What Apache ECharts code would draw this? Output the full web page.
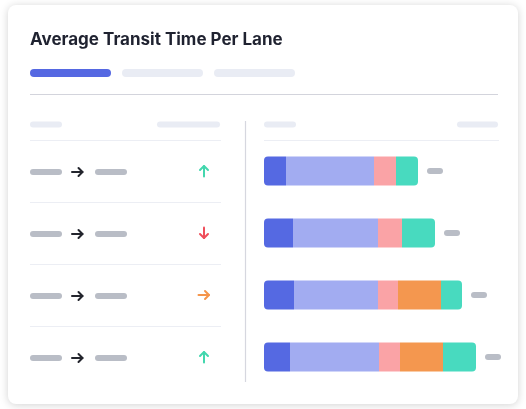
<!DOCTYPE html>
<html><head><meta charset="utf-8">
<script src="https://cdn.jsdelivr.net/npm/echarts@6/dist/echarts.min.js"></script>
<style>html,body{margin:0;padding:0;background:#fff}#c{width:526px;height:409px}</style>
</head><body><div id="c"></div>
<script>
// ---- data ----
const titleText = 'Average Transit Time Per Lane';
const lanes = ['Lane 1', 'Lane 2', 'Lane 3', 'Lane 4'];
const trends = ['up', 'down', 'flat', 'up'];
const segBlue = [11, 14.5, 15, 13];
const segLavender = [44, 42.5, 42, 44.5];
const segPink = [11, 12, 10, 10.5];
const segOrange = [0, 0, 21.5, 21.5];
const segTeal = [11, 16.5, 10.5, 16.5];
const valueMax = 117;

// ---- styles ----
const segments = [
  { name: 'Segment A', data: segBlue, color: '#5569e2' },
  { name: 'Segment B', data: segLavender, color: '#a2acf1' },
  { name: 'Segment C', data: segPink, color: '#faa3a6' },
  { name: 'Segment D', data: segOrange, color: '#f4974f' },
  { name: 'Segment E', data: segTeal, color: '#48dabf' }
];
const trendColors = { up: '#43d7ae', down: '#ef4e5b', flat: '#f5954b' };
const pillGray = '#b9bdc6';
const pillLight = '#e9ecf4';
const R = 4;

const totals = lanes.map((_, i) => segments.reduce((s, g) => s + g.data[i], 0));

function firstIdx(i) { for (let k = 0; k < segments.length; k++) if (segments[k].data[i] > 0) return k; return -1; }
function lastIdx(i) { for (let k = segments.length - 1; k >= 0; k--) if (segments[k].data[i] > 0) return k; return -1; }

const barSeries = segments.map((g, k) => ({
  type: 'bar', name: g.name, stack: 'total', xAxisIndex: 1, yAxisIndex: 1,
  barWidth: 29, silent: true,
  data: g.data.map((v, i) => {
    const f = firstIdx(i) === k, l = lastIdx(i) === k;
    return { value: v, itemStyle: { color: g.color, borderRadius: [f ? R : 0, l ? R : 0, l ? R : 0, f ? R : 0] } };
  })
}));

function arrowShape(kind, cx, cy, color) {
  let pts, head;
  if (kind === 'up') { pts = [[cx, cy + 5.5], [cx, cy - 5]]; head = [[cx - 4, cy - 1], [cx, cy - 5], [cx + 4, cy - 1]]; }
  else if (kind === 'down') { pts = [[cx, cy - 5.5], [cx, cy + 5]]; head = [[cx - 4, cy + 1], [cx, cy + 5], [cx + 4, cy + 1]]; }
  else { pts = [[cx - 5.5, cy], [cx + 5, cy]]; head = [[cx + 1, cy - 4], [cx + 5, cy], [cx + 1, cy + 4]]; }
  const st = { stroke: color, lineWidth: 2, fill: null, lineCap: 'round', lineJoin: 'round' };
  return [
    { type: 'polyline', shape: { points: pts }, style: st },
    { type: 'polyline', shape: { points: head }, style: st }
  ];
}

const leftSeries = {
  type: 'custom', xAxisIndex: 0, yAxisIndex: 0, silent: true,
  data: lanes.map((_, i) => [0, i]),
  renderItem: function (params, api) {
    const i = api.value(1);
    const p = api.coord([0, i]);
    const band = api.size([0, 1])[1];
    const cs = params.coordSys;
    const x0 = cs.x, x1 = cs.x + cs.width;
    const yTop = Math.round(p[1] - band / 2) + 0.5;
    const cy = p[1] + 1;
    const children = [
      { type: 'line', shape: { x1: x0, y1: yTop, x2: x1, y2: yTop }, style: { stroke: '#eceef4', lineWidth: 1 } },
      { type: 'rect', shape: { x: x0, y: cy - 3, width: 32, height: 6, r: 3 }, style: { fill: pillGray } },
      { type: 'rect', shape: { x: x0 + 65, y: cy - 3, width: 32, height: 6, r: 3 }, style: { fill: pillGray } }
    ].concat(arrowShape('flat', x0 + 47.5, cy, '#23252d'))
     .concat(arrowShape(trends[i], x0 + 174, cy - 1, trendColors[trends[i]]));
    return { type: 'group', children: children };
  }
};

const valuePillSeries = {
  type: 'custom', xAxisIndex: 1, yAxisIndex: 1, silent: true, z: 3,
  data: totals.map((t, i) => [t, i]),
  renderItem: function (params, api) {
    const p = api.coord([api.value(0), api.value(1)]);
    return { type: 'rect', shape: { x: p[0] + 9, y: p[1] - 3, width: 16, height: 6, r: 3 }, style: { fill: pillGray } };
  }
};

const chart = echarts.init(document.getElementById('c'), null, { renderer: 'canvas' });
chart.setOption({
  backgroundColor: '#ffffff',
  animation: false,
  grid: [
    { left: 30, top: 140, width: 191, height: 248 },
    { left: 264, top: 140, width: 234, height: 248 }
  ],
  xAxis: [
    { type: 'value', gridIndex: 0, min: 0, max: 1, show: false },
    { type: 'value', gridIndex: 1, min: 0, max: valueMax, show: false }
  ],
  yAxis: [
    { type: 'category', gridIndex: 0, data: lanes, inverse: true, show: false },
    { type: 'category', gridIndex: 1, data: lanes, inverse: true, show: false }
  ],
  graphic: [
    { type: 'rect', z: -100, shape: { x: 8, y: 5, width: 510, height: 399, r: 8 },
      style: { fill: '#ffffff', shadowBlur: 8, shadowColor: 'rgba(0,0,0,0.18)', shadowOffsetY: 1 } },
    { type: 'text', z: 10, style: { text: titleText, x: 30, y: 39.5, verticalAlign: 'middle',
      font: '700 17px Inter', fill: '#1f2230' } },
    { type: 'rect', z: 10, shape: { x: 30, y: 69, width: 81, height: 8, r: 4 }, style: { fill: '#5568e2' } },
    { type: 'rect', z: 10, shape: { x: 122, y: 69, width: 81, height: 8, r: 4 }, style: { fill: pillLight } },
    { type: 'rect', z: 10, shape: { x: 214, y: 69, width: 81, height: 8, r: 4 }, style: { fill: pillLight } },
    { type: 'line', z: 10, shape: { x1: 30, y1: 94.5, x2: 498, y2: 94.5 }, style: { stroke: '#d3d4dc', lineWidth: 1 } },
    { type: 'rect', z: 10, shape: { x: 30, y: 121.5, width: 32, height: 6, r: 3 }, style: { fill: pillLight } },
    { type: 'rect', z: 10, shape: { x: 157, y: 121.5, width: 63, height: 6, r: 3 }, style: { fill: pillLight } },
    { type: 'rect', z: 10, shape: { x: 264, y: 121.5, width: 32, height: 6, r: 3 }, style: { fill: pillLight } },
    { type: 'rect', z: 10, shape: { x: 457, y: 121.5, width: 41, height: 6, r: 3 }, style: { fill: pillLight } },
    { type: 'line', z: 10, shape: { x1: 264, y1: 140.5, x2: 499, y2: 140.5 }, style: { stroke: '#eceef4', lineWidth: 1 } },
    { type: 'line', z: 10, shape: { x1: 245.5, y1: 121, x2: 245.5, y2: 382 }, style: { stroke: '#d6d7df', lineWidth: 1.2 } }
  ],
  series: [leftSeries].concat(barSeries).concat([valuePillSeries])
});
</script></body></html>
